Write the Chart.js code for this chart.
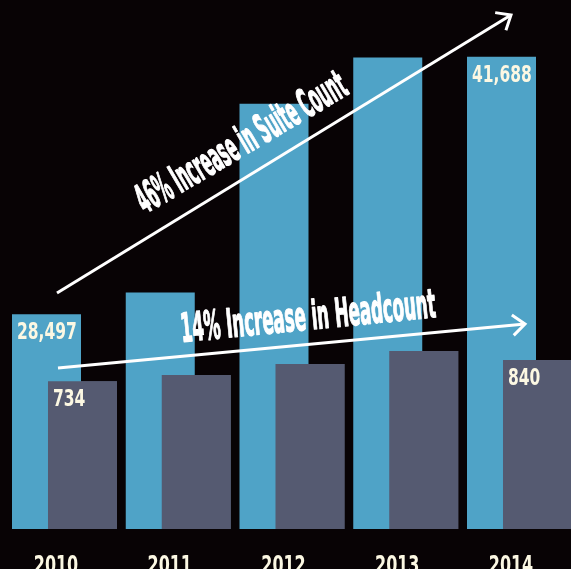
<!DOCTYPE html>
<html>
<head>
<meta charset="utf-8">
<title>Suite Count and Headcount</title>
<script src="https://cdn.jsdelivr.net/npm/chart.js@4.4.1/dist/chart.umd.min.js"></script>
<style>
    html, body { margin: 0; padding: 0; background: #080305; }
    #wrap { position: relative; width: 571px; height: 569px; }
</style>
</head>
<body>
<div id="wrap"><canvas id="growthChart"></canvas></div>
<script>
(function () {
    'use strict';

    // ============================================
    // Data
    // ============================================

    const years = ['2010', '2011', '2012', '2013', '2014'];
    const suiteCount = [28497, 29620, 39290, 41650, 41688];
    const headcount = [734, 766, 820, 885, 840];
    const labelledYears = ['2010', '2014'];

    // ============================================
    // Look
    // ============================================

    const COLORS = {
        background: '#080305',
        suite: '#4fa3c7',
        head: '#555a71',
        label: '#fcf8e3',
        arrow: '#ffffff'
    };
    const FONT = "'DejaVu Sans Condensed', 'Liberation Sans Narrow', sans-serif";

    // condensed lettering: horizontal squeeze applied on the canvas
    const YEAR_FONT = { size: 24, squeeze: 0.74, shift: -8.5, baseline: 573 };
    const VALUE_FONT = { size: 23, squeeze: 0.75, dx: 5, dy: 25 };

    // hand-drawn trend arrows with their captions (canvas pixels)
    const ARROWS = [
        { from: [57, 293], to: [511, 15] },
        { from: [58, 368], to: [525, 324] }
    ];
    const CAPTIONS = [
        { text: '46% Increase in Suite Count', x: 145, y: 214, angle: -30.5, width: 238, size: 40 },
        { text: '14% Increase in Headcount', x: 182, y: 342, angle: -5.6, width: 256, size: 40 }
    ];

    // ============================================
    // Plugins
    // ============================================

    const background = {
        id: 'background',
        beforeDraw(chart) {
            const ctx = chart.ctx;
            ctx.save();
            ctx.fillStyle = COLORS.background;
            ctx.fillRect(0, 0, chart.width, chart.height);
            ctx.restore();
        }
    };

    // headcount bars sit in front of the suite bars
    const headcountOnTop = {
        id: 'headcountOnTop',
        afterDatasetsDraw(chart) {
            const ctx = chart.ctx;
            chart.getDatasetMeta(1).data.forEach(el => el.draw(ctx));
        }
    };

    function squeezedText(ctx, text, x, y, squeeze) {
        ctx.save();
        ctx.translate(x, y);
        ctx.scale(squeeze, 1);
        ctx.fillText(text, 0, 0);
        ctx.restore();
    }

    const valueLabels = {
        id: 'valueLabels',
        afterDatasetsDraw(chart) {
            const ctx = chart.ctx;
            ctx.save();
            ctx.fillStyle = COLORS.label;
            ctx.font = 'bold ' + VALUE_FONT.size + 'px ' + FONT;
            ctx.textAlign = 'left';
            ctx.textBaseline = 'alphabetic';
            chart.data.datasets.forEach((ds, di) => {
                const meta = chart.getDatasetMeta(di);
                chart.data.labels.forEach((year, i) => {
                    if (!labelledYears.includes(year)) return;
                    const el = meta.data[i];
                    const left = el.x - el.width / 2;
                    squeezedText(ctx, ds.data[i].toLocaleString('en-US'),
                        left + VALUE_FONT.dx, el.y + VALUE_FONT.dy, VALUE_FONT.squeeze);
                });
            });
            ctx.restore();
        }
    };

    // year names under each pair of columns, placed from the x scale
    const yearLabels = {
        id: 'yearLabels',
        afterDraw(chart) {
            const ctx = chart.ctx;
            const xScale = chart.scales.x;
            ctx.save();
            ctx.fillStyle = COLORS.label;
            ctx.font = 'bold ' + YEAR_FONT.size + 'px ' + FONT;
            ctx.textAlign = 'center';
            ctx.textBaseline = 'alphabetic';
            xScale.ticks.forEach((tick, i) => {
                const x = xScale.getPixelForTick(i) + YEAR_FONT.shift;
                squeezedText(ctx, xScale.getLabelForValue(tick.value), x, YEAR_FONT.baseline, YEAR_FONT.squeeze);
            });
            ctx.restore();
        }
    };

    function drawArrow(ctx, a) {
        const [x0, y0] = a.from;
        const [x1, y1] = a.to;
        const ang = Math.atan2(y1 - y0, x1 - x0);
        const head = 16;
        const spread = 40 * Math.PI / 180;

        ctx.beginPath();
        ctx.moveTo(x0, y0);
        ctx.lineTo(x1, y1);
        ctx.stroke();

        ctx.beginPath();
        ctx.moveTo(x1 - head * Math.cos(ang - spread), y1 - head * Math.sin(ang - spread));
        ctx.lineTo(x1, y1);
        ctx.lineTo(x1 - head * Math.cos(ang + spread), y1 - head * Math.sin(ang + spread));
        ctx.stroke();
    }

    const trendArrows = {
        id: 'trendArrows',
        afterDraw(chart) {
            const ctx = chart.ctx;
            ctx.save();
            ctx.strokeStyle = COLORS.arrow;
            ctx.lineWidth = 3;
            ctx.lineJoin = 'miter';
            ARROWS.forEach(a => drawArrow(ctx, a));

            ctx.fillStyle = COLORS.arrow;
            ctx.textAlign = 'left';
            ctx.textBaseline = 'alphabetic';
            ctx.lineJoin = 'round';
            CAPTIONS.forEach(c => {
                ctx.font = 'bold ' + c.size + 'px ' + FONT;
                const natural = ctx.measureText(c.text).width;
                const sx = c.width / natural;
                ctx.save();
                ctx.translate(c.x, c.y);
                ctx.rotate(c.angle * Math.PI / 180);
                ctx.scale(sx, 1);
                ctx.fillText(c.text, 0, 0);
                // thicken the squeezed strokes a little
                ctx.lineWidth = 0.6 / sx;
                ctx.strokeText(c.text, 0, 0);
                ctx.restore();
            });
            ctx.restore();
        }
    };

    // ============================================
    // Chart
    // ============================================

    const ctx = document.getElementById('growthChart').getContext('2d');
    // columns may spill sideways past the plot edges, never below the baseline
    const sideOverflow = { left: 80, right: 80, top: 0, bottom: 0 };

    new Chart(ctx, {
        type: 'bar',
        data: {
            labels: years,
            datasets: [{
                label: 'Suite Count',
                data: suiteCount,
                backgroundColor: COLORS.suite,
                yAxisID: 'y',
                clip: sideOverflow
            }, {
                label: 'Headcount',
                data: headcount,
                backgroundColor: COLORS.head,
                yAxisID: 'y2',
                clip: sideOverflow
            }]
        },
        options: {
            responsive: true,
            maintainAspectRatio: false,
            animation: false,
            events: [],
            // two overlapping columns per year
            categoryPercentage: 0.633,
            barPercentage: 1.9167,
            layout: {
                padding: { left: 64.5, right: 51.5, top: 0, bottom: 40 }
            },
            plugins: {
                legend: { display: false },
                tooltip: { enabled: false }
            },
            scales: {
                x: {
                    display: false,
                    offset: false
                },
                y: {
                    display: false,
                    min: 17500,
                    max: 44600
                },
                y2: {
                    display: false,
                    min: 0,
                    max: 2630
                }
            }
        },
        plugins: [background, headcountOnTop, valueLabels, yearLabels, trendArrows]
    });
})();
</script>
</body>
</html>
